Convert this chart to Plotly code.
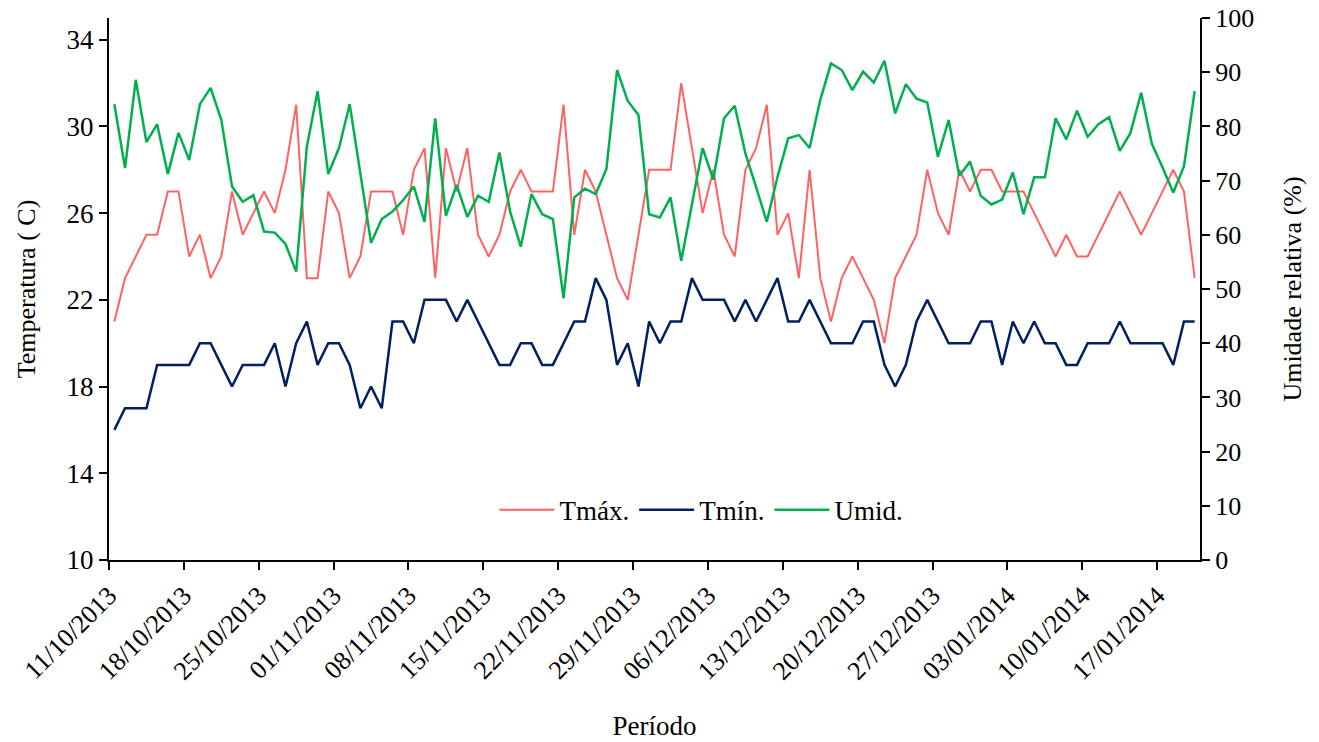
import pandas as pd
import plotly.graph_objects as go

start_date = "2013-10-11"
tmax = [21, 23, 24, 25, 25, 27, 27, 24, 25, 23, 24, 27, 25, 26, 27, 26, 28, 31, 23, 23,
        27, 26, 23, 24, 27, 27, 27, 25, 28, 29, 23, 29, 27, 29, 25, 24, 25, 27, 28, 27,
        27, 27, 31, 25, 28, 27, 25, 23, 22, 25, 28, 28, 28, 32, 29, 26, 28, 25, 24, 28,
        29, 31, 25, 26, 23, 28, 23, 21, 23, 24, 23, 22, 20, 23, 24, 25, 28, 26, 25, 28,
        27, 28, 28, 27, 27, 27, 26, 25, 24, 25, 24, 24, 25, 26, 27, 26, 25, 26, 27, 28,
        27, 23]
tmin = [16, 17, 17, 17, 19, 19, 19, 19, 20, 20, 19, 18, 19, 19, 19, 20, 18, 20, 21, 19,
        20, 20, 19, 17, 18, 17, 21, 21, 20, 22, 22, 22, 21, 22, 21, 20, 19, 19, 20, 20,
        19, 19, 20, 21, 21, 23, 22, 19, 20, 18, 21, 20, 21, 21, 23, 22, 22, 22, 21, 22,
        21, 22, 23, 21, 21, 22, 21, 20, 20, 20, 21, 21, 19, 18, 19, 21, 22, 21, 20, 20,
        20, 21, 21, 19, 21, 20, 21, 20, 20, 19, 19, 20, 20, 20, 21, 20, 20, 20, 20, 19,
        21, 21]
umid = [84.1, 72.3, 88.6, 77.1, 80.4, 71.2, 78.8, 73.8, 84.1, 87.1, 81.2, 68.9, 66.1, 67.3,
        60.6, 60.4, 58.3, 53.2, 76.3, 86.5, 71.2, 76.0, 84.1, 71.3, 58.5, 62.9, 64.3, 66.4,
        68.9, 62.4, 81.5, 63.5, 69.2, 63.3, 67.2, 66.1, 75.2, 64.3, 57.8, 67.5, 63.8, 62.9,
        48.3, 66.9, 68.5, 67.5, 72.1, 90.4, 84.7, 82.1, 63.8, 63.2, 66.9, 55.2, 65.5, 76.0,
        70.2, 81.5, 83.8, 75.0, 68.8, 62.4, 70.7, 77.8, 78.4, 76.0, 84.9, 91.6, 90.4, 86.7,
        90.1, 88.1, 92.1, 82.4, 87.8, 85.1, 84.4, 74.4, 81.2, 70.9, 73.5, 67.2, 65.6, 66.5,
        71.5, 63.8, 70.6, 70.6, 81.5, 77.6, 82.9, 78.1, 80.4, 81.7, 75.5, 78.8, 86.2, 76.8,
        72.4, 67.8, 72.6, 86.5]
temp_ticks = [10, 14, 18, 22, 26, 30, 34]
umid_ticks = [0, 10, 20, 30, 40, 50, 60, 70, 80, 90, 100]

dates = pd.date_range(start_date, periods=len(tmax), freq="D")
tick_dates = pd.date_range(start_date, "2014-01-17", freq="7D")
half_day = pd.Timedelta(hours=12)

FONT = "Liberation Serif, Times New Roman, serif"

fig = go.Figure()
fig.add_trace(go.Scatter(x=dates, y=tmax, name="Tmáx.", mode="lines",
                         line=dict(color="rgba(255,70,70,0.85)", width=2)))
fig.add_trace(go.Scatter(x=dates, y=tmin, name="Tmín.", mode="lines",
                         line=dict(color="#002060", width=2.5)))
fig.add_trace(go.Scatter(x=dates, y=umid, name="Umid.", mode="lines", yaxis="y2",
                         line=dict(color="#00B050", width=2.5)))

fig.update_layout(
    width=1319, height=742,
    margin=dict(l=109, r=119, t=18, b=182),
    paper_bgcolor="white", plot_bgcolor="white",
    font=dict(family=FONT, size=26, color="black"),
    showlegend=True,
    legend=dict(orientation="h", x=0.543, y=0.092, xanchor="center", yanchor="middle",
                bgcolor="rgba(0,0,0,0)", font=dict(size=27), itemwidth=55),
    xaxis=dict(
        type="date",
        range=[dates[0] - half_day, dates[-1] + half_day],
        tickvals=list(tick_dates - half_day),
        ticktext=[d.strftime("%d/%m/%Y") for d in tick_dates],
        tickangle=-45, ticks="outside", ticklen=8, tickwidth=2, tickcolor="black",
        showline=True, linecolor="black", linewidth=2, showgrid=False, zeroline=False,
        tickfont=dict(size=26),
        title=dict(text="Período", font=dict(size=27), standoff=32),
        automargin=False,
    ),
    yaxis=dict(
        range=[10, 35], tickvals=temp_ticks,
        ticks="outside", ticklen=8, tickwidth=2, tickcolor="black",
        showline=True, linecolor="black", linewidth=2, showgrid=False, zeroline=False,
        tickfont=dict(size=27), ticklabeloverflow="allow",
        title=dict(text="Temperatura ( C)", font=dict(size=26), standoff=23),
        automargin=False,
    ),
    yaxis2=dict(
        range=[0, 100], tickvals=umid_ticks, overlaying="y", side="right",
        ticks="outside", ticklen=8, tickwidth=2, tickcolor="black",
        showline=True, linecolor="black", linewidth=2, showgrid=False, zeroline=False,
        tickfont=dict(size=26), ticklabeloverflow="allow",
        title=dict(text="Umidade relativa (%)", font=dict(size=26), standoff=30),
        automargin=False,
    ),
)

fig.write_html("out.html", config={"displayModeBar": False},
               post_script="document.body.style.margin='0';")
